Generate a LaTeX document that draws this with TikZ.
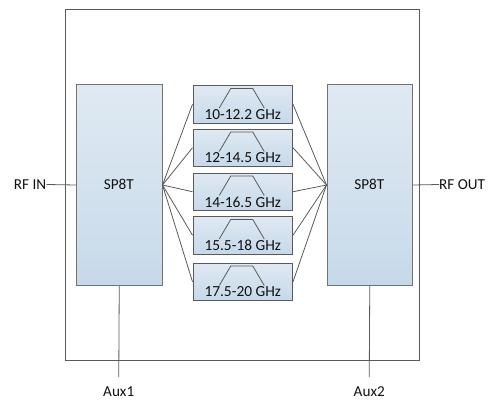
\documentclass[tikz,border=0pt]{standalone}
\usepackage{fontspec}
\setmainfont{Carlito}
\definecolor{edge}{HTML}{5A5A5A}
\definecolor{boxtop}{HTML}{DFE9F3}
\definecolor{boxbot}{HTML}{C6D9E9}
\definecolor{ink}{HTML}{111111}
\tikzset{
  px/.style={x=1pt,y=-1pt},
  switchbox/.style={draw=edge!85,line width=1pt,top color=boxtop,bottom color=boxbot,middle color=boxtop!55!boxbot,rounded corners=0pt,anchor=north west,minimum width=85.5pt,minimum height=201pt,inner sep=0pt},
  filterbox/.style={draw=edge,line width=1pt,top color=boxtop,bottom color=boxbot,anchor=north west,minimum width=99.5pt,minimum height=37.5pt,inner sep=0pt},
  wire/.style={draw=edge,line width=.8pt},
  outerbox/.style={draw=edge,line width=.8pt,anchor=north west,minimum width=354pt,minimum height=351pt,inner sep=0pt},
  lbl/.style={font=\fontsize{15.2}{17}\selectfont,text=ink,inner sep=0pt},
  flbl/.style={font=\fontsize{15.4}{17}\selectfont,text=ink,inner sep=0pt},
  pass/.style={draw=edge,line width=.8pt}
}
\begin{document}
\begin{tikzpicture}[px]
\useasboundingbox (0,0) rectangle (494,401);
\node[outerbox] (outer) at (65,9) {};
\node[switchbox] (swL) at (76,84) {};
\node[switchbox] (swR) at (326.5,84) {};
\node[lbl] (swLt) at (118.75,184) {SP8T};
\node[lbl] (swRt) at (369.25,184) {SP8T};
\foreach \n/\y/\t in {f1/85/10-12.2 GHz,f2/128.5/12-14.5 GHz,f3/172.5/14-16.5 GHz,f4/216/15.5-18 GHz,f5/262.5/17.5-20 GHz}{
  \node[filterbox] (\n) at (192.5,\y) {};
  \node[flbl] (\n t) at ([yshift=-29.5pt]\n.north) {\t};
  \draw[pass] ([shift={(-23.5pt,-23pt)}]\n.north)
     -- ([shift={(-12pt,-3.5pt)}]\n.north)
     -- ([shift={(10pt,-3.5pt)}]\n.north)
     -- ([shift={(21.5pt,-23pt)}]\n.north);
  \draw[wire] (swL.east) -- (\n.west);
  \draw[wire] (\n.east) -- (swR.west);
}
\node[lbl,anchor=east] (rfin) at (46.5,184.5) {RF IN};
\node[lbl,anchor=west] (rfout) at (439,184.5) {RF OUT};
\draw[wire] (rfin.east) -- (swL.west);
\draw[wire] (swR.east) -- (rfout.west);
\node[lbl] (aux1) at (118.75,392) {Aux1};
\node[lbl] (aux2) at (369.25,392) {Aux2};
\coordinate (a1) at (118.75,377);
\coordinate (a2) at (369.25,377);
\draw[wire] (swL.south) -- (a1);
\draw[wire] (swR.south) -- (a2);
\end{tikzpicture}
\end{document}
